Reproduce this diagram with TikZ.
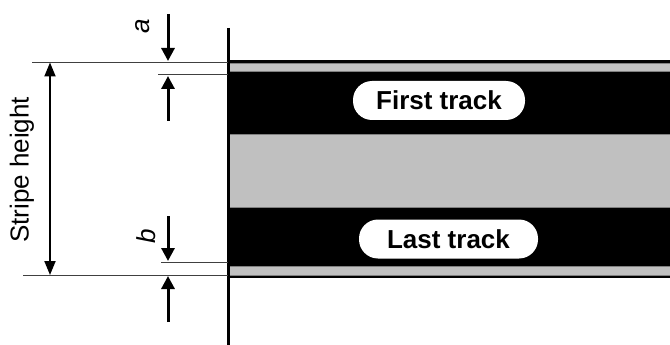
\documentclass[tikz,border=0pt]{standalone}
\usepackage{fontspec}
\setmainfont{Liberation Sans}
\usetikzlibrary{arrows.meta}
\definecolor{stripegray}{HTML}{C0C0C0}
\definecolor{edgegray}{HTML}{808080}
\definecolor{extline}{HTML}{404040}
\tikzset{
  extln/.style={draw=extline, line width=1pt},
  dimarrow/.style={line width=3pt, -{Triangle[width=13pt,length=13pt]}},
  bigdim/.style={line width=2pt, {Triangle[width=11pt,length=14pt]}-{Triangle[width=11pt,length=14pt]}},
  tracklabel/.style={fill=white, rounded corners=19pt, inner sep=0pt, minimum height=39pt,
     font=\fontsize{26}{30}\selectfont\bfseries},
  dimlabel/.style={font=\fontsize{26}{30}\selectfont\itshape, rotate=90, inner sep=0pt},
}
\begin{document}
\begin{tikzpicture}[x=1pt,y=-1pt]
\useasboundingbox (0,0) rectangle (670,345);
% stripe
\fill[black] (228,60.5) rectangle (670,277.5);
\fill[stripegray] (228,63) rectangle (670,71.5);
\fill[stripegray] (228,134) rectangle (670,207);
\fill[stripegray] (228,266) rectangle (670,275);
\draw[edgegray, line width=0.8pt] (228,63) -- (670,63) (228,71.5) -- (670,71.5)
  (228,134) -- (670,134) (228,207) -- (670,207)
  (228,266) -- (670,266) (228,275) -- (670,275);
% vertical edge
\draw[line width=3pt] (228,28) -- (228,345);
% labels
\node[tracklabel, minimum width=172pt] (first) at (439,100.5) {First track};
\node[tracklabel, minimum width=179pt] (last) at (448.5,239) {Last track};
% extension lines
\coordinate (t1) at (32,62.5);  \coordinate (t1e) at (228,62.5);
\coordinate (t2) at (158,75);   \coordinate (t2e) at (228,75);
\coordinate (b1) at (161,262);  \coordinate (b1e) at (228,262);
\coordinate (b2) at (23,275);   \coordinate (b2e) at (228,275);
\draw[extln] (t1) -- (t1e);
\draw[extln] (t2) -- (t2e);
\draw[extln] (b1) -- (b1e);
\draw[extln] (b2) -- (b2e);
% stripe height
\coordinate (sh1) at (50,62.5);
\coordinate (sh2) at (50,275);
\draw[bigdim] (sh1) -- (sh2);
\node[font=\fontsize{26}{30}\selectfont, rotate=90, inner sep=0pt] (sh) at (22,170) {Stripe height};
% a arrows
\coordinate (a1s) at (168,14);  \coordinate (a1e) at (168,61);
\coordinate (a2s) at (168,121); \coordinate (a2e) at (168,76);
\draw[dimarrow] (a1s) -- (a1e);
\draw[dimarrow] (a2s) -- (a2e);
\node[dimlabel] (a) at (143,26) {a};
% b arrows
\coordinate (b1s) at (168,216); \coordinate (b1t) at (168,261);
\coordinate (b2s) at (168,322); \coordinate (b2t) at (168,276);
\draw[dimarrow] (b1s) -- (b1t);
\draw[dimarrow] (b2s) -- (b2t);
\node[dimlabel] (b) at (146,236) {b};
\end{tikzpicture}
\end{document}
